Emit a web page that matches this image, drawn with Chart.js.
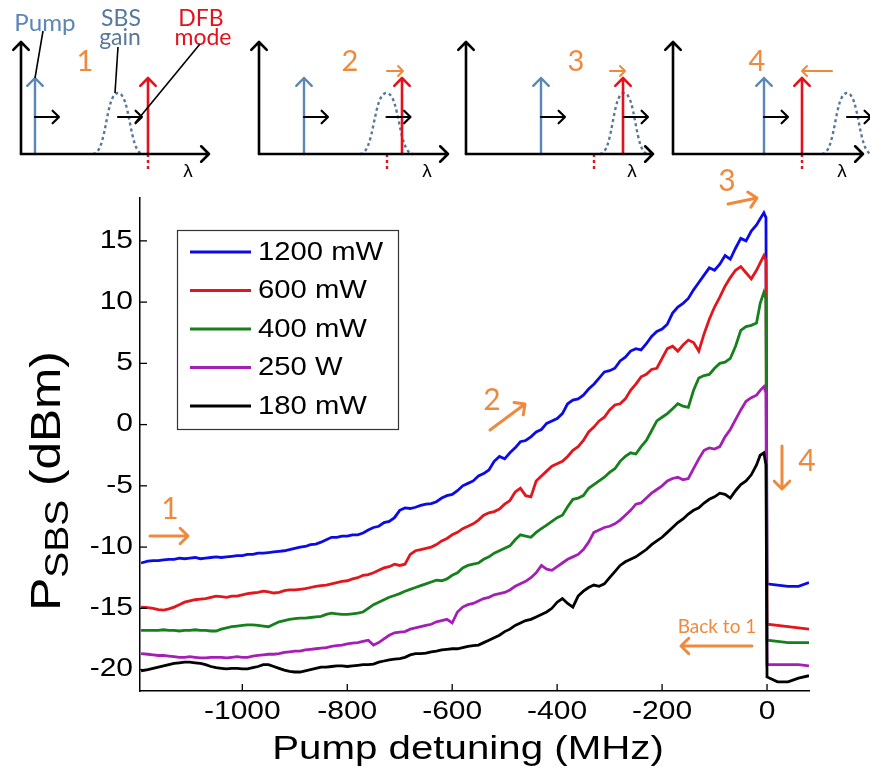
<!DOCTYPE html>
<html>
<head>
<meta charset="utf-8">
<title>SBS power vs pump detuning</title>
<script src="https://cdn.jsdelivr.net/npm/chart.js@4.4.1/dist/chart.umd.min.js"></script>
<style>
  html, body { margin: 0; padding: 0; background: #fff; }
  canvas { display: block; }
</style>
</head>
<body>
<canvas id="sbsChart" width="870" height="772"></canvas>
<script>
/* ── P_SBS vs pump detuning, five pump powers ───────────── */

// Pump detuning (MHz), shared by all traces
var detuning = [
  -1193,
  -1180, -1170, -1160, -1150, -1140, -1130, -1120, -1110, -1100, -1090,
  -1080, -1070, -1060, -1050, -1040, -1030, -1020, -1010, -1000, -990,
  -980, -970, -960, -950, -940, -930, -920, -910, -900, -890,
  -880, -870, -860, -850, -840, -830, -820, -810, -800, -790,
  -780, -770, -760, -750, -740, -730, -720, -710, -700, -690,
  -680, -670, -660, -650, -640, -630, -620, -610, -600, -590,
  -580, -570, -560, -550, -540, -530, -520, -510, -500, -490,
  -480, -470, -460, -450, -440, -430, -420, -410, -400, -390,
  -380, -370, -360, -350, -340, -330, -320, -310, -300, -290,
  -280, -270, -260, -250, -240, -230, -220, -210, -200, -190,
  -180, -170, -160, -150, -140, -130, -120, -110, -100, -90,
  -80, -70, -60, -50, -40, -30, -20,
  -13, -6, -2, 0, 20, 40, 60, 80
];

// P_SBS (dBm) per pump power
var p1200 = [
  -11.3,
  -11.15, -11.1, -11.1, -11.05, -11.0, -11.0, -10.9, -10.95, -10.9, -10.85,
  -10.95, -10.9, -10.85, -10.8, -10.85, -10.8, -10.75, -10.7, -10.7, -10.6,
  -10.6, -10.5, -10.5, -10.45, -10.4, -10.35, -10.3, -10.2, -10.1, -10.0,
  -9.95, -9.8, -9.75, -9.6, -9.4, -9.2, -9.2, -9.1, -9.1, -9.0,
  -9.0, -8.85, -8.6, -8.4, -8.3, -8.0, -7.9, -7.6, -7.0, -6.8,
  -6.85, -6.75, -6.6, -6.5, -6.45, -6.3, -6.0, -5.8, -5.7, -5.4,
  -5.0, -4.8, -4.6, -4.2, -4.0, -3.7, -3.0, -2.6, -2.8, -2.3,
  -1.9, -1.4, -1.3, -1.0, -0.6, -0.4, 0.1, 0.3, 0.5, 0.9,
  1.7, 2.0, 2.1, 2.4, 2.9, 3.3, 3.8, 4.3, 4.4, 4.6,
  5.2, 5.5, 6.0, 6.2, 6.1, 6.6, 7.2, 7.6, 7.8, 8.2,
  9.1, 9.6, 9.9, 10.3, 11.0, 11.6, 12.2, 12.8, 12.6, 13.1,
  13.8, 13.5, 14.4, 15.2, 15.0, 15.8, 16.3,
  16.8, 17.3, 16.9, -13.0, -13.1, -13.2, -13.2, -12.9
];
var p600 = [
  -14.9,
  -14.95, -15.0, -15.1, -15.15, -15.05, -14.9, -14.7, -14.5, -14.4, -14.3,
  -14.25, -14.2, -14.1, -14.0, -14.05, -14.1, -14.0, -14.0, -13.9, -13.8,
  -13.75, -13.7, -13.6, -13.65, -13.75, -13.7, -13.55, -13.5, -13.5, -13.45,
  -13.4, -13.3, -13.2, -13.15, -13.1, -13.0, -12.9, -12.8, -12.75, -12.6,
  -12.5, -12.3, -12.25, -12.1, -11.9, -11.7, -11.6, -11.4, -11.5, -11.4,
  -10.6, -10.3, -10.2, -10.1, -10.0, -9.8, -9.5, -9.3, -9.0, -8.8,
  -8.5, -8.3, -8.1, -7.8, -7.4, -7.2, -7.1, -6.9, -6.5, -6.2,
  -5.5, -5.2, -5.8, -5.9, -4.6, -4.2, -3.8, -3.4, -3.2, -3.0,
  -2.6, -2.1, -1.8, -1.3, -0.6, -0.2, 0.3, 0.6, 1.2, 1.6,
  1.7, 2.1, 2.8, 3.3, 3.9, 4.1, 4.5, 4.6, 5.4, 6.2,
  6.4, 6.0, 6.5, 6.9, 6.7, 6.0, 7.4, 8.6, 9.6, 10.4,
  11.3, 12.0, 12.6, 12.9, 12.4, 11.9, 12.6,
  13.2, 13.8, 13.4, -16.3, -16.4, -16.5, -16.6, -16.7
];
var p400 = [
  -16.8,
  -16.8, -16.8, -16.8, -16.75, -16.8, -16.8, -16.85, -16.8, -16.8, -16.75,
  -16.8, -16.8, -16.85, -16.85, -16.7, -16.6, -16.5, -16.45, -16.4, -16.35,
  -16.35, -16.4, -16.45, -16.5, -16.3, -16.1, -16.0, -15.9, -15.85, -15.8,
  -15.8, -15.75, -15.7, -15.65, -15.5, -15.4, -15.45, -15.5, -15.5, -15.45,
  -15.4, -15.3, -15.0, -14.7, -14.5, -14.3, -14.1, -13.95, -13.8, -13.6,
  -13.45, -13.3, -13.15, -13.0, -12.85, -12.7, -12.75, -12.6, -12.3, -12.1,
  -11.7, -11.5, -11.4, -11.3, -11.0, -10.8, -10.5, -10.3, -10.1, -9.9,
  -9.4, -9.0, -9.1, -9.2, -8.8, -8.5, -8.2, -7.9, -7.6, -7.4,
  -6.7, -6.1, -6.0, -5.8, -5.2, -4.9, -4.6, -4.3, -3.9, -3.6,
  -3.0, -2.6, -2.3, -2.4, -1.8, -1.3, -0.5, 0.3, 0.6, 0.9,
  1.3, 1.7, 1.5, 1.4, 2.8, 3.8, 4.0, 4.1, 4.6, 5.0,
  5.1, 5.4, 6.4, 7.7, 8.0, 8.1, 8.3,
  9.9, 10.8, 10.3, -17.6, -17.7, -17.8, -17.8, -17.8
];
var p250 = [
  -18.7,
  -18.75, -18.8, -18.85, -18.85, -18.9, -18.95, -19.0, -19.0, -18.95, -19.0,
  -19.05, -19.05, -19.0, -19.0, -19.0, -19.05, -19.0, -18.95, -19.0, -19.0,
  -18.9, -18.85, -18.8, -18.75, -18.75, -18.7, -18.6, -18.55, -18.5, -18.5,
  -18.4, -18.35, -18.3, -18.25, -18.2, -18.1, -18.05, -18.0, -17.9, -17.85,
  -17.8, -17.7, -17.6, -18.0, -17.8, -17.5, -17.2, -17.0, -16.95, -16.9,
  -16.7, -16.6, -16.5, -16.4, -16.3, -16.1, -16.0, -15.9, -16.2, -15.3,
  -14.9, -14.7, -14.6, -14.4, -14.2, -14.1, -13.9, -13.8, -13.7, -13.5,
  -13.2, -13.0, -12.8, -12.5, -12.1, -11.5, -11.8, -11.9, -11.6, -11.3,
  -11.0, -10.8, -10.6, -10.2, -9.6, -8.8, -8.6, -8.4, -8.3, -8.1,
  -7.8, -7.4, -7.0, -6.5, -6.4, -6.0, -5.6, -5.3, -5.0, -4.6,
  -4.4, -4.3, -4.5, -4.4, -3.6, -2.8, -2.1, -1.9, -2.0, -1.8,
  -1.0, -0.4, 0.4, 1.2, 1.9, 2.2, 2.4,
  2.8, 3.1, 2.6, -19.6, -19.6, -19.6, -19.6, -19.7
];
var p180 = [
  -20.1,
  -20.0, -19.9, -19.8, -19.7, -19.6, -19.5, -19.45, -19.4, -19.4, -19.45,
  -19.5, -19.6, -19.75, -19.85, -19.9, -19.95, -19.9, -19.9, -19.95, -19.95,
  -19.85, -19.75, -19.6, -19.6, -19.75, -19.9, -20.05, -20.15, -20.2, -20.2,
  -20.1, -20.0, -19.9, -19.8, -19.8, -19.75, -19.7, -19.7, -19.75, -19.7,
  -19.65, -19.6, -19.6, -19.55, -19.4, -19.3, -19.2, -19.15, -19.1, -19.0,
  -18.8, -18.7, -18.7, -18.65, -18.55, -18.5, -18.4, -18.35, -18.3, -18.3,
  -18.2, -18.1, -18.05, -18.0, -17.8, -17.6, -17.4, -17.2, -16.9, -16.7,
  -16.4, -16.2, -16.0, -15.9, -15.7, -15.5, -15.3, -15.0, -14.5, -14.2,
  -14.6, -14.9, -14.0, -13.6, -13.3, -13.1, -13.2, -13.0, -12.5, -12.0,
  -11.5, -11.2, -11.0, -10.8, -10.5, -10.2, -9.8, -9.5, -9.2, -8.8,
  -8.4, -8.0, -7.7, -7.3, -7.0, -6.8, -6.4, -6.1, -5.9, -5.6,
  -5.7, -6.0, -5.4, -4.9, -4.6, -4.1, -3.3,
  -2.5, -2.3, -3.3, -20.6, -21.0, -21.0, -20.7, -20.5
];

var seriesLabels = ['1200 mW', '600 mW', '400 mW', '250 W', '180 mW'];
var xTicks = [-1000, -800, -600, -400, -200, 0];
var yTicks = [-20, -15, -10, -5, 0, 5, 10, 15];

var ORANGE = '#ee8a3e';
var PUMP_BLUE = '#5b87b4';
var GAIN_BLUE = '#58789b';
var DFB_RED = '#e3121c';
var AXIS_FONT = '"Liberation Sans", Arial, sans-serif';
var NOTE_FONT = 'Lato, "Open Sans", sans-serif';

function toPoints(ys) {
  return detuning.map(function (x, i) { return { x: x, y: ys[i] }; });
}

// text squeezed/stretched horizontally
function wideText(ctx, text, x, y, font, sx, align, color) {
  ctx.save();
  ctx.translate(x, y);
  ctx.scale(sx, 1);
  ctx.font = font;
  ctx.fillStyle = color || '#000';
  ctx.textAlign = align || 'center';
  ctx.textBaseline = 'middle';
  ctx.fillText(text, 0, 0);
  ctx.restore();
}

// line with an open chevron head at (x2, y2)
function arrow(ctx, x1, y1, x2, y2, color, width, head) {
  var a = Math.atan2(y2 - y1, x2 - x1);
  ctx.save();
  ctx.strokeStyle = color;
  ctx.lineWidth = width;
  ctx.lineCap = 'round';
  ctx.lineJoin = 'round';
  ctx.beginPath();
  ctx.moveTo(x1, y1);
  ctx.lineTo(x2, y2);
  ctx.moveTo(x2 - head * Math.cos(a - 0.78), y2 - head * Math.sin(a - 0.78));
  ctx.lineTo(x2, y2);
  ctx.lineTo(x2 - head * Math.cos(a + 0.78), y2 - head * Math.sin(a + 0.78));
  ctx.stroke();
  ctx.restore();
}

function line(ctx, x1, y1, x2, y2, color, width, dash) {
  ctx.save();
  ctx.strokeStyle = color;
  ctx.lineWidth = width;
  if (dash) ctx.setLineDash(dash);
  ctx.beginPath();
  ctx.moveTo(x1, y1);
  ctx.lineTo(x2, y2);
  ctx.stroke();
  ctx.restore();
}

// dotted gain profile between x0 and x1
function gainCurve(ctx, x0, x1, peakY, baseY) {
  var xc = (x0 + x1) / 2, w = (x1 - x0) / 2;
  ctx.save();
  ctx.strokeStyle = GAIN_BLUE;
  ctx.lineWidth = 2.4;
  ctx.setLineDash([3, 3]);
  ctx.beginPath();
  ctx.moveTo(x0, baseY);
  ctx.bezierCurveTo(x0 + w * 0.55, baseY, xc - w * 0.5, peakY, xc, peakY);
  ctx.bezierCurveTo(xc + w * 0.5, peakY, x1 - w * 0.55, baseY, x1, baseY);
  ctx.stroke();
  ctx.restore();
}

// small spectrum sketches above the plot (states 1-4)
var sketches = [
  { ox: 21, ex: 209, pump: 35, dfb: 148, dot: 148, gain: [93, 143], num: '1', numX: 85, shift: null },
  { ox: 259, ex: 448, pump: 304, dfb: 402, dot: 387, gain: [360, 413], num: '2', numX: 350, shift: [387, 403] },
  { ox: 466, ex: 653, pump: 541, dfb: 623, dot: 594, gain: [600, 648], num: '3', numX: 576, shift: [610, 625] },
  { ox: 673, ex: 863, pump: 764, dfb: 802, dot: 802, gain: [822, 872], num: '4', numX: 757, shift: [832, 802] }
];

function drawSketches(ctx) {
  var base = 154, top = 42, tip = 78, mid = 117;
  sketches.forEach(function (s) {
    var gc = (s.gain[0] + s.gain[1]) / 2;
    gainCurve(ctx, s.gain[0], s.gain[1], 93, base);
    line(ctx, s.dot, base, s.dot, 171, DFB_RED, 2.4, [3, 3]);
    arrow(ctx, s.pump, base, s.pump, tip, PUMP_BLUE, 2.4, 11);
    arrow(ctx, s.dfb, base, s.dfb, tip, DFB_RED, 2.6, 11);
    arrow(ctx, s.pump, mid, s.pump + 24, mid, '#000', 2.2, 9);
    arrow(ctx, gc, mid, gc + 24, mid, '#000', 2.2, 9);
    arrow(ctx, s.ox, base, s.ox, top, '#000', 2.6, 11);
    arrow(ctx, s.ox, base, s.ex, base, '#000', 2.6, 11);
    wideText(ctx, 'λ', s.ex - 21, 172, '19px ' + AXIS_FONT, 1, 'center', '#000');
    wideText(ctx, s.num, s.numX, 62, '29px ' + NOTE_FONT, 1, 'center', ORANGE);
    if (s.shift) arrow(ctx, s.shift[0], 71, s.shift[1], 71, ORANGE, 2, 7);
  });

  // labels of the first sketch
  var f = '23px ' + NOTE_FONT;
  wideText(ctx, 'Pump', 45, 24, f, 1.05, 'center', PUMP_BLUE);
  wideText(ctx, 'SBS', 121, 19, f, 1, 'center', GAIN_BLUE);
  wideText(ctx, 'gain', 120, 38, f, 1, 'center', GAIN_BLUE);
  wideText(ctx, 'DFB', 201, 19, f, 1, 'center', DFB_RED);
  wideText(ctx, 'mode', 203, 38, f, 1, 'center', DFB_RED);
  line(ctx, 43, 31, 35, 78, '#000', 1.6);
  line(ctx, 118, 47, 115, 93, '#000', 1.6);
  line(ctx, 200, 44, 135, 123, '#000', 1.6);
}

function drawNotes(ctx) {
  var f = '30px ' + NOTE_FONT;
  wideText(ctx, '1', 170, 509, f, 1, 'center', ORANGE);
  arrow(ctx, 150, 536, 188, 536, ORANGE, 3, 11);
  wideText(ctx, '2', 492, 400, f, 1, 'center', ORANGE);
  arrow(ctx, 490, 430, 525, 404, ORANGE, 3, 11);
  wideText(ctx, '3', 727, 181, f, 1, 'center', ORANGE);
  arrow(ctx, 728, 204, 757, 198, ORANGE, 3, 11);
  wideText(ctx, '4', 807, 461, f, 1, 'center', ORANGE);
  arrow(ctx, 782, 446, 782, 489, ORANGE, 3, 11);
  wideText(ctx, 'Back to 1', 717, 627, '19px ' + NOTE_FONT, 1, 'center', ORANGE);
  arrow(ctx, 752, 646, 681, 646, ORANGE, 3, 11);
}

function drawLegend(chart) {
  var ctx = chart.ctx;
  ctx.save();
  ctx.fillStyle = '#fff';
  ctx.fillRect(177, 230, 221, 199);
  ctx.strokeStyle = '#333';
  ctx.lineWidth = 1.2;
  ctx.strokeRect(177.5, 230.5, 221, 199);
  chart.data.datasets.forEach(function (ds, i) {
    var y = 252 + i * 38.5;
    line(ctx, 190, y, 251, y, ds.borderColor, 3);
    wideText(ctx, ds.label, 258, y + 1, '25px ' + AXIS_FONT, 1.17, 'left', '#000');
  });
  ctx.restore();
}

var decorations = {
  id: 'decorations',
  afterDatasetsDraw: function (chart) {
    drawLegend(chart);
  },
  afterDraw: function (chart) {
    var ctx = chart.ctx;
    var xs = chart.scales.x, ys = chart.scales.y, area = chart.chartArea;

    // inward tick marks and tick labels
    xTicks.forEach(function (v) {
      var px = xs.getPixelForValue(v);
      line(ctx, px, area.bottom, px, area.bottom - 7, '#000', 1.3);
      wideText(ctx, String(v), px, 712, '25px ' + AXIS_FONT, 1.2, 'center', '#000');
    });
    yTicks.forEach(function (v) {
      var py = ys.getPixelForValue(v);
      line(ctx, area.left, py, area.left + 7, py, '#000', 1.3);
      wideText(ctx, String(v), 133, py, '25px ' + AXIS_FONT, 1.2, 'right', '#000');
    });

    // axis titles
    wideText(ctx, 'Pump detuning (MHz)', 468, 750, '33px ' + AXIS_FONT, 1.22, 'center', '#000');

    ctx.save();
    ctx.translate(60, 481);
    ctx.rotate(-Math.PI / 2);
    ctx.scale(1.18, 1);
    ctx.fillStyle = '#000';
    ctx.textBaseline = 'alphabetic';
    var big = '42px ' + AXIS_FONT, small = '33px ' + AXIS_FONT;
    ctx.font = big;
    var wP = ctx.measureText('P').width, wU = ctx.measureText(' (dBm)').width;
    ctx.font = small;
    var wS = ctx.measureText('SBS').width;
    var x0 = -(wP + wS + wU) / 2;
    ctx.font = big;
    ctx.fillText('P', x0, 0);
    ctx.font = small;
    ctx.fillText('SBS', x0 + wP, 8);
    ctx.font = big;
    ctx.fillText(' (dBm)', x0 + wP + wS, 0);
    ctx.restore();

    drawNotes(ctx);
    drawSketches(ctx);
  }
};

var colors = ['#0b0be8', '#e2161c', '#16801c', '#a51fb6', '#000000'];
var series = [p1200, p600, p400, p250, p180];

new Chart(document.getElementById('sbsChart'), {
  type: 'line',
  data: {
    datasets: series.map(function (ys, i) {
      return {
        label: seriesLabels[i],
        data: toPoints(ys),
        borderColor: colors[i],
        borderWidth: 2.8,
        pointRadius: 0,
        tension: 0,
        fill: false,
        order: series.length - i
      };
    })
  },
  options: {
    responsive: false,
    animation: false,
    events: [],
    layout: { padding: { left: 140, right: 61, top: 198, bottom: 81 } },
    plugins: { legend: { display: false }, tooltip: { enabled: false } },
    scales: {
      x: {
        type: 'linear',
        min: -1195,
        max: 80,
        grid: { display: false },
        border: { display: true, color: '#000', width: 1.5 },
        ticks: { display: false },
        afterFit: function (s) { s.height = 0; }
      },
      y: {
        type: 'linear',
        min: -21.75,
        max: 18.5,
        grid: { display: false },
        border: { display: true, color: '#000', width: 1.5 },
        ticks: { display: false },
        afterFit: function (s) { s.width = 0; }
      }
    }
  },
  plugins: [decorations]
});
</script>
</body>
</html>
